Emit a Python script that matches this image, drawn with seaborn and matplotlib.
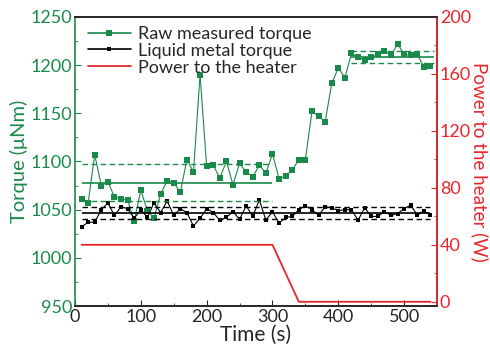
import matplotlib
matplotlib.use("Agg")
import matplotlib.pyplot as plt
import seaborn as sns
from matplotlib.ticker import MultipleLocator
from matplotlib.lines import Line2D

# time axis (s), one sample every 10 s
time_s = list(range(10, 550, 10))

raw_torque = [1061, 1057, 1107, 1075, 1079, 1063, 1061, 1060, 1038, 1070,
              1049, 1041, 1066, 1080, 1078, 1068, 1102, 1089, 1190, 1095,
              1096, 1083, 1100, 1076, 1098, 1089, 1084, 1096, 1088, 1108,
              1082, 1085, 1091, 1102, 1102, 1152, 1147, 1141, 1181, 1197,
              1187, 1212, 1208, 1205, 1208, 1211, 1215, 1210, 1222, 1211,
              1210, 1211, 1198, 1199]

metal_torque = [1032, 1037, 1037, 1050, 1057, 1044, 1053, 1051, 1041, 1050,
                1042, 1057, 1047, 1059, 1044, 1051, 1047, 1033, 1041, 1051,
                1047, 1039, 1042, 1048, 1040, 1054, 1043, 1060, 1039, 1048,
                1036, 1042, 1043, 1050, 1054, 1050, 1044, 1053, 1052, 1049,
                1050, 1050, 1039, 1052, 1043, 1043, 1048, 1044, 1046, 1051,
                1055, 1044, 1049, 1044]

power_time = [10, 300, 340, 540]
power_w = [40, 40, 0, 0]

# mean +/- deviation bands: (start, end, mean, deviation)
raw_band_before = [10, 300, 1078, 19.5]
raw_band_after = [420, 545, 1208.5, 6.5]
metal_band = [10, 540, 1046.5, 6.5]

green = "#1a8a4a"
red = "#e8262b"

sns.set_style("ticks")
plt.rcParams["font.family"] = ["Lato", "DejaVu Sans"]

fig = plt.figure(figsize=(4.9, 3.51), dpi=100)
ax = fig.add_axes([0.153, 0.128, 0.739, 0.824])
ax2 = ax.twinx()

sns.lineplot(x=time_s, y=raw_torque, ax=ax, color=green, lw=0.8,
             marker="s", markersize=5, markeredgewidth=0, label="Raw measured torque",
             legend=False)
sns.lineplot(x=time_s, y=metal_torque, ax=ax, color="black", lw=0.8,
             marker="s", markersize=2.2, markeredgewidth=0, label="Liquid metal torque",
             legend=False)
sns.lineplot(x=power_time, y=power_w, ax=ax2, color=red, lw=1.3,
             label="Power to the heater", legend=False)

for band, col in [(raw_band_before, green), (raw_band_after, green), (metal_band, "black")]:
    x0, x1, m, d = band
    ax.hlines(m, x0, x1, color=col, lw=1.2)
    ax.hlines([m - d, m + d], x0, x1, color=col, lw=1.0, linestyles=(0, (4, 2.5)))

ax.set_xlim(0, 550)
ax.set_ylim(950, 1250)
ax2.set_ylim(-3, 200)

ax.xaxis.set_major_locator(MultipleLocator(100))
ax.xaxis.set_minor_locator(MultipleLocator(50))
ax.yaxis.set_major_locator(MultipleLocator(50))
ax.yaxis.set_minor_locator(MultipleLocator(25))
ax2.yaxis.set_major_locator(MultipleLocator(40))
ax2.yaxis.set_minor_locator(MultipleLocator(20))

ax.tick_params(axis="both", which="both", direction="in", labelsize=13, pad=2)
ax.tick_params(axis="both", which="major", length=4)
ax.tick_params(axis="both", which="minor", length=2.5)
ax.tick_params(axis="y", which="both", colors=green)
ax2.tick_params(axis="y", which="both", direction="in", colors=red, labelsize=13, pad=2)
ax2.tick_params(axis="y", which="major", length=4)
ax2.tick_params(axis="y", which="minor", length=2.5)

ax.spines["left"].set_color(green)
ax2.spines["left"].set_color(green)
ax2.spines["right"].set_color(red)
for a in (ax, ax2):
    for s in a.spines.values():
        s.set_linewidth(1.2)
ax2.spines["left"].set_visible(False)

ax.set_xlabel("Time (s)", fontsize=15, labelpad=0)
ax.set_ylabel("Torque (\u03bcNm)", fontsize=14.5, color=green, labelpad=2)
ax2.set_ylabel("Power to the heater (W)", fontsize=13.5, color=red, rotation=270, labelpad=13)

handles = [
    Line2D([], [], color=green, lw=1.2, marker="s", markersize=5, markeredgewidth=0),
    Line2D([], [], color="black", lw=1.2, marker="s", markersize=2.5, markeredgewidth=0),
    Line2D([], [], color=red, lw=1.3),
]
labels = ["Raw measured torque", "Liquid metal torque", "Power to the heater"]
ax2.legend(handles, labels, loc="upper left", frameon=False, fontsize=13,
           handlelength=2.4, handletextpad=0.4, labelspacing=0.05,
           borderaxespad=0.1, bbox_to_anchor=(0.01, 1.0))

fig.savefig("out.png", dpi=100)
